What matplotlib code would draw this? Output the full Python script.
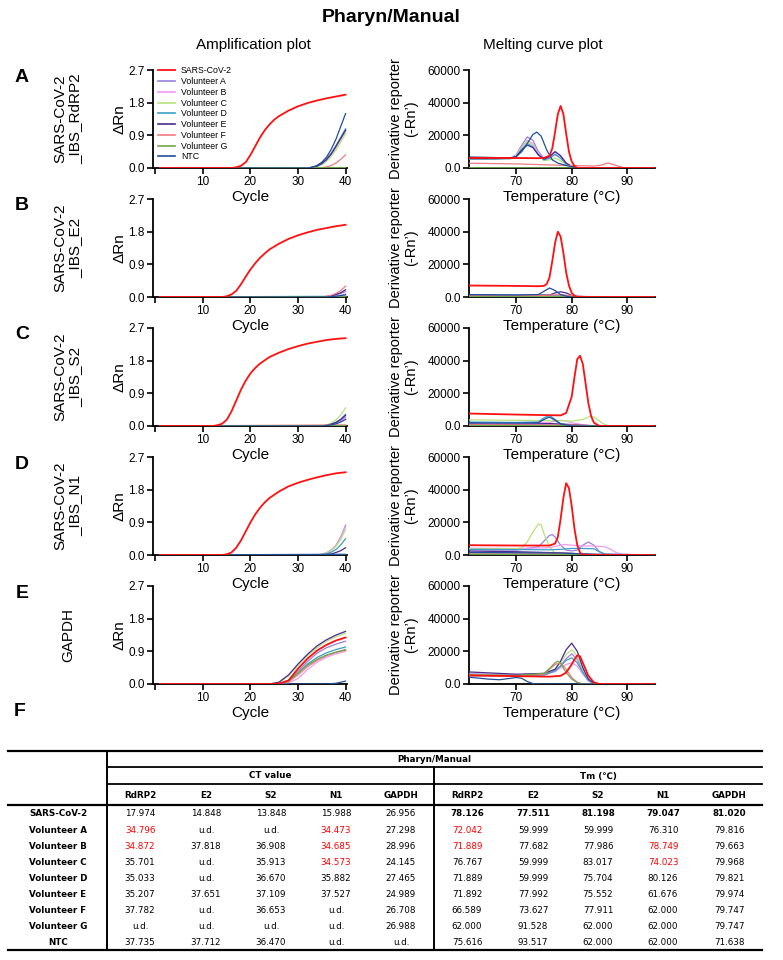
import matplotlib
matplotlib.use('Agg')
import matplotlib.pyplot as plt
from matplotlib.lines import Line2D

# ---------------- data ----------------
SERIES = ['SARS-CoV-2', 'Volunteer A', 'Volunteer B', 'Volunteer C', 'Volunteer D',
          'Volunteer E', 'Volunteer F', 'Volunteer G', 'NTC']
COLORS = ['#ff1010', '#9b80e0', '#f09af2', '#b8e27a', '#3d9dc8',
          '#4a2a90', '#f07a80', '#6ea64a', '#1f4f9a']
TARGETS = ['SARS-CoV-2\n_IBS_RdRP2', 'SARS-CoV-2\n_IBS_E2', 'SARS-CoV-2\n_IBS_S2',
           'SARS-CoV-2\n_IBS_N1', 'GAPDH']
PANEL_LETTERS = ['A', 'B', 'C', 'D', 'E']

V1 = [1, 32, 33, 34, 35, 36, 37, 38, 39, 40]
V2 = [1, 34, 35, 36, 37, 38, 39, 40]
V3 = [1, 35, 36, 37, 38, 39, 40]
G5 = [1, 24, 26, 28, 30, 32, 34, 36, 38, 40]

amp_rdrp2 = {
    'SARS-CoV-2': ([1, 16, 17, 18, 19, 20, 21, 22, 23, 24, 25, 26, 28, 30, 32, 34, 36, 38, 40],
                   [0, 0, 0.02, 0.06, 0.16, 0.36, 0.6, 0.84, 1.04, 1.2, 1.33, 1.43, 1.58, 1.7, 1.79, 1.86, 1.92, 1.97, 2.02]),
    'Volunteer A': (V1, [0, 0, 0.02, 0.06, 0.13, 0.24, 0.4, 0.6, 0.83, 1.05]),
    'Volunteer B': (V1, [0, 0, 0.02, 0.05, 0.12, 0.23, 0.38, 0.58, 0.8, 1.03]),
    'Volunteer C': (V1, [0, 0, 0.01, 0.04, 0.09, 0.18, 0.32, 0.5, 0.72, 0.95]),
    'Volunteer D': (V1, [0, 0, 0.02, 0.06, 0.13, 0.25, 0.41, 0.62, 0.85, 1.08]),
    'Volunteer E': (V1, [0, 0, 0.02, 0.05, 0.12, 0.23, 0.39, 0.6, 0.82, 1.04]),
    'Volunteer F': (V2, [0, 0, 0.01, 0.03, 0.07, 0.14, 0.24, 0.36]),
    'Volunteer G': ([1, 40], [0, 0.01]),
    'NTC': (V1, [0, 0, 0.02, 0.07, 0.16, 0.3, 0.52, 0.8, 1.15, 1.5]),
}
amp_e2 = {
    'SARS-CoV-2': ([1, 14, 15, 16, 17, 18, 19, 20, 21, 22, 23, 24, 26, 28, 30, 32, 34, 36, 38, 40],
                   [0, 0, 0.02, 0.07, 0.17, 0.35, 0.56, 0.76, 0.93, 1.08, 1.2, 1.31, 1.47, 1.6, 1.7, 1.78, 1.85, 1.9, 1.95, 1.99]),
    'Volunteer A': (V3, [0, 0, 0.01, 0.03, 0.06, 0.1, 0.15]),
    'Volunteer B': (V3, [0, 0, 0, 0.01, 0.03, 0.05, 0.08]),
    'Volunteer C': ([1, 40], [0, 0.01]),
    'Volunteer D': ([1, 40], [0, 0.02]),
    'Volunteer E': (V3, [0, 0, 0.01, 0.03, 0.07, 0.12, 0.2]),
    'Volunteer F': (V3, [0, 0, 0.02, 0.05, 0.1, 0.18, 0.3]),
    'Volunteer G': ([1, 40], [0, 0.01]),
    'NTC': (V3, [0, 0, 0, 0.01, 0.02, 0.04, 0.06]),
}
amp_s2 = {
    'SARS-CoV-2': ([1, 12, 13, 14, 15, 16, 17, 18, 19, 20, 21, 22, 24, 26, 28, 30, 32, 34, 36, 38, 40],
                   [0, 0, 0.02, 0.06, 0.17, 0.4, 0.7, 1.0, 1.25, 1.45, 1.6, 1.72, 1.9, 2.02, 2.12, 2.2, 2.27, 2.32, 2.37, 2.4, 2.42]),
    'Volunteer A': (V3, [0, 0, 0.02, 0.04, 0.08, 0.15, 0.25]),
    'Volunteer B': (V3, [0, 0, 0.01, 0.04, 0.07, 0.13, 0.22]),
    'Volunteer C': (V3, [0, 0, 0.03, 0.08, 0.17, 0.31, 0.5]),
    'Volunteer D': (V3, [0, 0, 0.02, 0.05, 0.1, 0.19, 0.32]),
    'Volunteer E': (V3, [0, 0, 0.02, 0.05, 0.1, 0.18, 0.3]),
    'Volunteer F': ([1, 40], [0, 0.03]),
    'Volunteer G': ([1, 40], [0, 0.01]),
    'NTC': (V3, [0, 0, 0.01, 0.03, 0.06, 0.11, 0.18]),
}
amp_n1 = {
    'SARS-CoV-2': ([1, 14, 15, 16, 17, 18, 19, 20, 21, 22, 23, 24, 26, 28, 30, 32, 34, 36, 38, 40],
                   [0, 0, 0.02, 0.07, 0.2, 0.4, 0.65, 0.9, 1.12, 1.3, 1.45, 1.57, 1.75, 1.89, 1.99, 2.07, 2.14, 2.2, 2.25, 2.28]),
    'Volunteer A': (V2, [0, 0, 0.02, 0.06, 0.14, 0.27, 0.5, 0.82]),
    'Volunteer B': (V2, [0, 0, 0.02, 0.06, 0.13, 0.26, 0.47, 0.78]),
    'Volunteer C': (V2, [0, 0, 0.02, 0.05, 0.12, 0.24, 0.43, 0.7]),
    'Volunteer D': (V2, [0, 0, 0.01, 0.03, 0.08, 0.15, 0.28, 0.45]),
    'Volunteer E': (V2, [0, 0, 0, 0.01, 0.03, 0.07, 0.12, 0.2]),
    'Volunteer F': ([1, 40], [0, 0.01]),
    'Volunteer G': ([1, 40], [0, 0.01]),
    'NTC': ([1, 40], [0, 0.02]),
}
amp_gapdh = {
    'SARS-CoV-2': (G5, [0, 0, 0.01, 0.1, 0.42, 0.7, 0.92, 1.08, 1.2, 1.28]),
    'Volunteer A': (G5, [0, 0, 0.01, 0.08, 0.35, 0.62, 0.85, 1.0, 1.1, 1.18]),
    'Volunteer B': (G5, [0, 0, 0.0, 0.03, 0.15, 0.4, 0.6, 0.74, 0.83, 0.9]),
    'Volunteer C': (G5, [0, 0, 0.04, 0.22, 0.5, 0.78, 1.0, 1.18, 1.3, 1.4]),
    'Volunteer D': (G5, [0, 0, 0.01, 0.08, 0.3, 0.55, 0.73, 0.86, 0.95, 1.02]),
    'Volunteer E': (G5, [0, 0, 0.05, 0.25, 0.55, 0.82, 1.05, 1.22, 1.35, 1.45]),
    'Volunteer F': (G5, [0, 0, 0.01, 0.06, 0.25, 0.48, 0.65, 0.78, 0.87, 0.93]),
    'Volunteer G': (G5, [0, 0, 0.01, 0.07, 0.3, 0.52, 0.68, 0.8, 0.88, 0.95]),
    'NTC': ([1, 36, 38, 40], [0, 0, 0.02, 0.08]),
}

MA = [60, 66, 69, 70, 71, 72, 73, 74, 75, 76, 77, 78, 79, 80, 81, 82, 95]
melt_rdrp2 = {
    'SARS-CoV-2': ([60, 65, 70, 74, 75, 76, 76.5, 77, 77.5, 78, 78.5, 79, 79.5, 80, 80.5, 81, 95],
                   [6200, 6200, 6100, 6000, 6200, 7500, 12000, 22000, 33000, 38000, 33000, 21000, 10000, 4000, 1200, 0, 0]),
    'Volunteer A': (MA, [6000, 6000, 6200, 8000, 14000, 19000, 17000, 10000, 6000, 7000, 10000, 7500, 3000, 1000, 300, 0, 0]),
    'Volunteer B': (MA, [5800, 5800, 6000, 7500, 13000, 17000, 15000, 9000, 5500, 6000, 8000, 6000, 2500, 800, 200, 0, 0]),
    'Volunteer C': (MA, [5500, 5500, 5800, 7500, 12500, 16500, 14000, 8000, 4500, 5000, 6000, 4500, 2000, 700, 200, 0, 0]),
    'Volunteer D': (MA, [5500, 5500, 5700, 7000, 11500, 15000, 13000, 8000, 5000, 6000, 8500, 6000, 2500, 800, 200, 0, 0]),
    'Volunteer E': (MA, [5800, 5800, 6000, 7000, 11000, 14000, 12500, 8000, 5500, 7000, 10000, 7500, 3000, 1000, 300, 0, 0]),
    'Volunteer F': ([60, 70, 80, 84, 85, 86, 86.5, 87, 88, 89, 90, 95],
                    [3000, 2500, 1500, 1200, 1500, 2500, 3000, 2700, 1500, 500, 0, 0]),
    'Volunteer G': ([60, 95], [200, 0]),
    'NTC': ([60, 62, 66, 69, 70, 71, 72, 73, 73.7, 74.5, 75.5, 76.5, 77.5, 79, 80, 81, 95],
            [6800, 6700, 6400, 6000, 7000, 10000, 15000, 20500, 22000, 19500, 11000, 5000, 3000, 1500, 800, 0, 0]),
}
melt_e2 = {
    'SARS-CoV-2': ([60, 62, 70, 74, 75, 75.5, 76, 76.5, 77, 77.5, 78, 78.5, 79, 79.5, 80, 80.5, 81, 95],
                   [7200, 7000, 6800, 6600, 6800, 8000, 12000, 22000, 33000, 40000, 37000, 27000, 15000, 7000, 2500, 800, 0, 0]),
    'Volunteer A': ([60, 75, 80, 85, 95], [1000, 900, 500, 0, 0]),
    'Volunteer B': ([60, 75, 78, 80, 84, 95], [800, 800, 1200, 600, 0, 0]),
    'Volunteer C': ([60, 80, 86, 95], [600, 400, 0, 0]),
    'Volunteer D': ([60, 75, 82, 95], [1300, 1100, 0, 0]),
    'Volunteer E': ([60, 70, 76, 77, 78, 79, 80, 81, 95], [1200, 1000, 1200, 2500, 3200, 2500, 1000, 0, 0]),
    'Volunteer F': ([60, 74, 78, 82, 95], [700, 900, 1400, 300, 0]),
    'Volunteer G': ([60, 95], [300, 0]),
    'NTC': ([60, 70, 74, 75, 76, 77, 78, 79, 80, 95], [1500, 1200, 1500, 3500, 5500, 4000, 1500, 500, 0, 0]),
}
melt_s2 = {
    'SARS-CoV-2': ([60, 62, 70, 78, 79, 80, 80.5, 81, 81.5, 82, 82.5, 83, 83.5, 84, 85, 95],
                   [7800, 7600, 7000, 6500, 8000, 18000, 30000, 41000, 43000, 38000, 26000, 14000, 6000, 2000, 0, 0]),
    'Volunteer A': ([60, 70, 80, 84, 95], [1500, 1300, 1000, 200, 0]),
    'Volunteer B': ([60, 70, 76, 77, 78, 79, 80, 82, 84, 95], [2000, 1900, 2200, 3000, 3500, 3000, 2000, 800, 0, 0]),
    'Volunteer C': ([60, 70, 78, 80, 82, 83, 83.5, 84, 85, 86, 87, 95],
                    [3800, 3500, 3200, 3000, 4000, 5500, 6000, 5500, 3000, 800, 0, 0]),
    'Volunteer D': ([60, 70, 74, 75, 76, 77, 78, 79, 80, 95], [2500, 2200, 2500, 5000, 6500, 4000, 1500, 800, 0, 0]),
    'Volunteer E': ([60, 70, 76, 80, 84, 95], [1200, 1000, 1500, 800, 0, 0]),
    'Volunteer F': ([60, 80, 85, 95], [800, 600, 0, 0]),
    'Volunteer G': ([60, 95], [300, 0]),
    'NTC': ([60, 70, 74, 75, 76, 77, 78, 80, 95], [2000, 1800, 2000, 4000, 5500, 3500, 1200, 0, 0]),
}
melt_n1 = {
    'SARS-CoV-2': ([60, 62, 70, 76, 77, 77.5, 78, 78.5, 79, 79.5, 80, 80.5, 81, 81.5, 82, 95],
                   [6200, 6000, 5800, 5800, 7000, 11000, 22000, 35000, 44000, 41000, 30000, 16000, 6000, 1500, 0, 0]),
    'Volunteer A': ([60, 70, 74, 75, 76, 76.5, 77, 78, 79, 80, 81, 82, 83, 84, 85, 86, 95],
                    [3200, 3000, 5000, 8500, 12000, 12500, 11000, 6000, 3000, 2500, 3000, 6000, 8000, 6000, 2000, 500, 0]),
    'Volunteer B': ([60, 70, 76, 78, 78.7, 80, 82, 84, 86, 87, 88, 89, 95],
                    [4200, 4000, 4500, 6000, 6500, 6000, 5500, 5500, 5000, 3500, 1500, 500, 0]),
    'Volunteer C': ([60, 70, 71, 72, 73, 74, 74.5, 75, 76, 77, 78, 95],
                    [3800, 3800, 4500, 8000, 14000, 19000, 18500, 13000, 5000, 1000, 0, 0]),
    'Volunteer D': ([60, 70, 76, 78, 80, 82, 84, 85, 86, 95], [3500, 3300, 3200, 3500, 4000, 4000, 3800, 2000, 500, 0]),
    'Volunteer E': ([60, 70, 76, 80, 84, 95], [2500, 2000, 1500, 1000, 300, 0]),
    'Volunteer F': ([60, 75, 80, 86, 95], [1200, 1100, 900, 300, 0]),
    'Volunteer G': ([60, 95], [500, 0]),
    'NTC': ([60, 70, 78, 84, 95], [1600, 1400, 1200, 400, 0]),
}
ME = [60, 62, 70, 75, 77, 78, 79, 80, 81, 82, 83, 84, 85, 95]
melt_gapdh = {
    'SARS-CoV-2': ([60, 62, 70, 76, 78, 79, 80, 80.5, 81, 81.5, 82, 83, 84, 85, 95],
                   [5500, 5300, 4800, 4500, 5000, 7000, 12000, 15000, 17500, 17000, 13000, 5000, 1000, 0, 0]),
    'Volunteer A': (ME, [6500, 6200, 5500, 6000, 8500, 11000, 15500, 18500, 15000, 8000, 2500, 400, 0, 0]),
    'Volunteer B': (ME, [5500, 5300, 5000, 5500, 7500, 10000, 12000, 13000, 11000, 6000, 2000, 300, 0, 0]),
    'Volunteer C': (ME, [6000, 5800, 5200, 6000, 9000, 13000, 18000, 21000, 17000, 9000, 2500, 400, 0, 0]),
    'Volunteer D': (ME, [5200, 5000, 5000, 5500, 8000, 11000, 14500, 16000, 13000, 7000, 2000, 300, 0, 0]),
    'Volunteer E': (ME, [7500, 7300, 6000, 6500, 9000, 14000, 21000, 25000, 20000, 10000, 3000, 500, 0, 0]),
    'Volunteer F': ([60, 62, 70, 75, 76, 77, 78, 79, 80, 81, 82, 95],
                    [5000, 5000, 5000, 6000, 9000, 12000, 13000, 9000, 4000, 1000, 0, 0]),
    'Volunteer G': ([60, 62, 70, 75, 76, 77, 77.5, 78, 79, 80, 81, 82, 95],
                    [5500, 5500, 5200, 6500, 9500, 13000, 14000, 12500, 7000, 3000, 800, 0, 0]),
    'NTC': ([60, 62, 65, 67, 69, 70, 71, 72, 73, 74, 95],
            [4500, 4000, 3000, 2600, 3500, 4000, 3500, 1500, 300, 0, 0]),
}
AMP_DATA = [amp_rdrp2, amp_e2, amp_s2, amp_n1, amp_gapdh]
MELT_DATA = [melt_rdrp2, melt_e2, melt_s2, melt_n1, melt_gapdh]

# table data
TABLE_ROWS = SERIES
TABLE_COLS = ['RdRP2', 'E2', 'S2', 'N1', 'GAPDH']
ct_values = [
    ['17.974', '14.848', '13.848', '15.988', '26.956'],
    ['34.796', 'u.d.', 'u.d.', '34.473', '27.298'],
    ['34.872', '37.818', '36.908', '34.685', '28.996'],
    ['35.701', 'u.d.', '35.913', '34.573', '24.145'],
    ['35.033', 'u.d.', '36.670', '35.882', '27.465'],
    ['35.207', '37.651', '37.109', '37.527', '24.989'],
    ['37.782', 'u.d.', '36.653', 'u.d.', '26.708'],
    ['u.d.', 'u.d.', 'u.d.', 'u.d.', '26.988'],
    ['37.735', '37.712', '36.470', 'u.d.', 'u.d.'],
]
tm_values = [
    ['78.126', '77.511', '81.198', '79.047', '81.020'],
    ['72.042', '59.999', '59.999', '76.310', '79.816'],
    ['71.889', '77.682', '77.986', '78.749', '79.663'],
    ['76.767', '59.999', '83.017', '74.023', '79.968'],
    ['71.889', '59.999', '75.704', '80.126', '79.821'],
    ['71.892', '77.992', '75.552', '61.676', '79.974'],
    ['66.589', '73.627', '77.911', '62.000', '79.747'],
    ['62.000', '91.528', '62.000', '62.000', '79.747'],
    ['75.616', '93.517', '62.000', '62.000', '71.638'],
]
ct_red = [(1, 0), (1, 3), (2, 0), (2, 3), (3, 3)]
tm_red = [(1, 0), (2, 0), (2, 3), (3, 3)]

# ---------------- drawing ----------------
plt.rcParams['font.family'] = ['Liberation Sans', 'DejaVu Sans']
W, H = 783, 960
fig = plt.figure(figsize=(W / 100, H / 100), dpi=100)


def fx(px):
    return px / W


def fy(py):
    return 1 - py / H


AMP_L, AMP_R = 153, 347
MELT_L, MELT_R = 469, 655
ROW_TOP = [70, 199, 328, 457, 586]
AX_H = 98


def style(ax):
    ax.patch.set_visible(False)
    for s in ['top', 'right']:
        ax.spines[s].set_visible(False)
    for s in ['left', 'bottom']:
        ax.spines[s].set_linewidth(1.3)
    ax.tick_params(which='both', direction='out', length=4, width=1.2, labelsize=8.5, pad=2)


fig.text(0.5, fy(18), 'Pharyn/Manual', ha='center', va='center', fontsize=14, fontweight='bold')
fig.text(fx(253), fy(45), 'Amplification plot', ha='center', va='center', fontsize=11)
fig.text(fx(543), fy(45), 'Melting curve plot', ha='center', va='center', fontsize=11)

for i in range(5):
    top = ROW_TOP[i]
    axa = fig.add_axes([fx(AMP_L), fy(top + AX_H), (AMP_R - AMP_L) / W, AX_H / H])
    axm = fig.add_axes([fx(MELT_L), fy(top + AX_H), (MELT_R - MELT_L) / W, AX_H / H])
    for ax in (axa, axm):
        style(ax)
    order = list(range(1, len(SERIES))) + [0]
    for j in order:
        name = SERIES[j]
        lw = 1.3 if j == 0 else 0.9
        z = 5 if j == 0 else 3
        xs, ys = AMP_DATA[i][name]
        axa.plot(xs, ys, color=COLORS[j], lw=lw, zorder=z, label=name)
        xs, ys = MELT_DATA[i][name]
        axm.plot(xs, ys, color=COLORS[j], lw=lw, zorder=z, label=name)
    axa.set_xlim(-0.5, 40.3)
    axa.set_ylim(0, 2.7)
    axa.set_xticks([10, 20, 30, 40])
    axa.set_xticks([0], minor=True)
    axa.set_yticks([0, 0.9, 1.8, 2.7])
    axa.set_yticklabels(['0.0', '0.9', '1.8', '2.7'])
    axa.set_xlabel('Cycle', fontsize=11, labelpad=1)
    axa.set_ylabel('ΔRn', fontsize=11)
    axa.yaxis.set_label_coords(-0.135, 0.5)

    axm.set_xlim(61.5, 95)
    axm.set_ylim(0, 60000)
    axm.set_xticks([70, 80, 90])
    axm.set_yticks([0, 20000, 40000, 60000])
    axm.set_yticklabels(['0.0', '20000', '40000', '60000'])
    axm.set_xlabel('Temperature (°C)', fontsize=11, labelpad=1)
    axm.set_ylabel('Derivative reporter\n(-Rn’)', fontsize=10.5, linespacing=1.1)
    axm.yaxis.set_label_coords(-0.275, 0.5)

    fig.text(fx(22), fy(top + 7), PANEL_LETTERS[i], ha='center', va='center',
             fontsize=14, fontweight='bold')
    fig.text(fx(68), fy(top + AX_H / 2), TARGETS[i], ha='center', va='center',
             rotation=90, fontsize=11, linespacing=1.1)

    if i == 0:
        handles = [Line2D([0], [0], color=COLORS[j], lw=1.3 if j == 0 else 1.2) for j in range(len(SERIES))]
        axa.legend(handles, SERIES, loc='upper left', bbox_to_anchor=(0.0, 1.09),
                   fontsize=6.3, frameon=False, handlelength=1.9, handletextpad=0.7,
                   labelspacing=0.2, borderaxespad=0.2)

# ---------------- table ----------------
fig.text(fx(20), fy(712), 'F', ha='center', va='center', fontsize=14, fontweight='bold')

TF = ['DejaVu Sans']
TS = 6.3
T_L, T_R, T_MID = 8, 762, 434
V_SPLIT = 107
Y_TOP, Y_L2, Y_L3, Y_L4, Y_BOT = 751, 767, 784, 805, 950


def hline(y, x0, x1, lw):
    fig.add_artist(Line2D([fx(x0), fx(x1)], [fy(y), fy(y)], color='black', lw=lw))


def vline(x, y0, y1, lw):
    fig.add_artist(Line2D([fx(x), fx(x)], [fy(y0), fy(y1)], color='black', lw=lw))


hline(Y_TOP, T_L, T_R, 1.6)
hline(Y_L2, V_SPLIT, T_R, 1.3)
hline(Y_L3, V_SPLIT, T_R, 1.3)
hline(Y_L4, T_L, T_R, 1.6)
hline(Y_BOT, T_L, T_R, 1.6)
vline(V_SPLIT, Y_TOP, Y_BOT, 1.4)
vline(T_MID, Y_L2, Y_BOT, 1.4)

fig.text(fx((V_SPLIT + T_R) / 2), fy(760), 'Pharyn/Manual', ha='center', va='center',
         fontsize=TS, fontweight='bold', family=TF)
fig.text(fx((V_SPLIT + T_MID) / 2), fy(776), 'CT value', ha='center', va='center',
         fontsize=TS, fontweight='bold', family=TF)
fig.text(fx((T_MID + T_R) / 2), fy(776), 'Tm (℃)', ha='center', va='center',
         fontsize=TS, fontweight='bold', family=TF)

CT_X = [140, 206, 271, 336, 401]
TM_X = [467, 533, 598, 663, 729]
ROW_Y0, ROW_DY = 814, 16.1
for k, col in enumerate(TABLE_COLS):
    fig.text(fx(CT_X[k]), fy(795), col, ha='center', va='center', fontsize=TS, fontweight='bold', family=TF)
    fig.text(fx(TM_X[k]), fy(795), col, ha='center', va='center', fontsize=TS, fontweight='bold', family=TF)
for r, name in enumerate(TABLE_ROWS):
    y = fy(ROW_Y0 + r * ROW_DY)
    fig.text(fx(58), y, name, ha='center', va='center', fontsize=TS, fontweight='bold', family=TF)
    for k in range(5):
        c = 'red' if (r, k) in ct_red else 'black'
        fig.text(fx(CT_X[k]), y, ct_values[r][k], ha='center', va='center', fontsize=TS,
                 color=c, family=TF)
        c = 'red' if (r, k) in tm_red else 'black'
        fw = 'bold' if r == 0 else 'normal'
        fig.text(fx(TM_X[k]), y, tm_values[r][k], ha='center', va='center', fontsize=TS,
                 color=c, fontweight=fw, family=TF)

fig.savefig('out.png', dpi=100)
